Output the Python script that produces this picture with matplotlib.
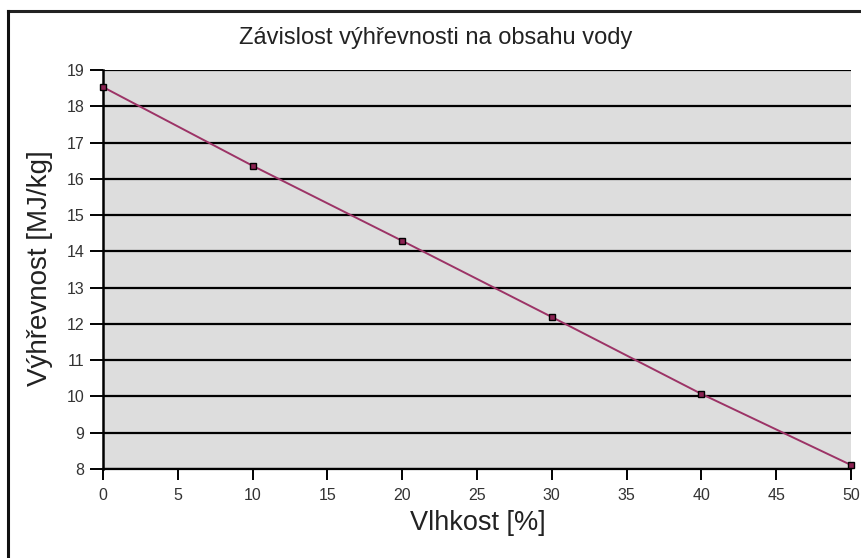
import matplotlib
matplotlib.use("Agg")
import matplotlib.pyplot as plt
from matplotlib.lines import Line2D

plt.rcParams['font.family'] = ['Liberation Sans', 'DejaVu Sans']

vlhkost = [0, 10, 20, 30, 40, 50]
vyhrevnost = [18.53, 16.36, 14.29, 12.19, 10.07, 8.11]
x_ticks = [0, 5, 10, 15, 20, 25, 30, 35, 40, 45, 50]
y_ticks = [8, 9, 10, 11, 12, 13, 14, 15, 16, 17, 18, 19]
title = "Závislost výhřevnosti na obsahu vody"
xlabel = "Vlhkost [%]"
ylabel = "Výhřevnost [MJ/kg]"

W, H = 862, 558
fig = plt.figure(figsize=(W / 100, H / 100), dpi=100)
fig.patch.set_facecolor('white')

# outer frame (partially clipped like the reference)
fig.add_artist(Line2D([8.5 / W, 1.0], [1 - 10.5 / H, 1 - 10.5 / H], color='#222222', lw=2.2,
                      transform=fig.transFigure))
fig.add_artist(Line2D([8.5 / W, 8.5 / W], [1 - 10.5 / H, 0.0], color='#111111', lw=2.2,
                      transform=fig.transFigure))

left, right, top, bottom = 103, 851, 70, 469
ax = fig.add_axes([left / W, 1 - bottom / H, (right - left) / W, (bottom - top) / H])
ax.set_facecolor('#dddddd')
ax.set_xlim(0, 50)
ax.set_ylim(8, 19)

for yv in y_ticks:
    ax.axhline(yv, color='black', lw=1.6, zorder=1)

ax.plot(vlhkost, vyhrevnost, color='#9c3366', lw=1.4, marker='s', markersize=4.0,
        markerfacecolor='#8b2252', markeredgecolor='black', markeredgewidth=1.0,
        zorder=3, clip_on=False)

ax.set_xticks(x_ticks)
ax.set_yticks(y_ticks)
ax.set_xticklabels([str(v) for v in x_ticks])
ax.set_yticklabels([str(v) for v in y_ticks])
ax.tick_params(axis='y', direction='out', length=9.5, width=1.4, pad=4, labelsize=11.5,
               colors='black')
ax.tick_params(axis='x', direction='out', length=8, width=1.4, pad=6, labelsize=11.5,
               colors='black')
for lbl in ax.get_xticklabels() + ax.get_yticklabels():
    lbl.set_color('#333333')

for s in ['top', 'right']:
    ax.spines[s].set_visible(False)
ax.spines['left'].set_linewidth(1.8)
ax.spines['bottom'].set_linewidth(1.6)

fig.text(436 / W, 1 - 38 / H, title, ha='center', va='center', fontsize=17, color='#222222')
fig.text(478 / W, 1 - 523 / H, xlabel, ha='center', va='center', fontsize=19.5, color='#222222')
fig.text(40 / W, 1 - 268 / H, ylabel, ha='center', va='center', fontsize=20, rotation=90,
         color='#222222')

fig.savefig('out.png', dpi=100, facecolor='white')
